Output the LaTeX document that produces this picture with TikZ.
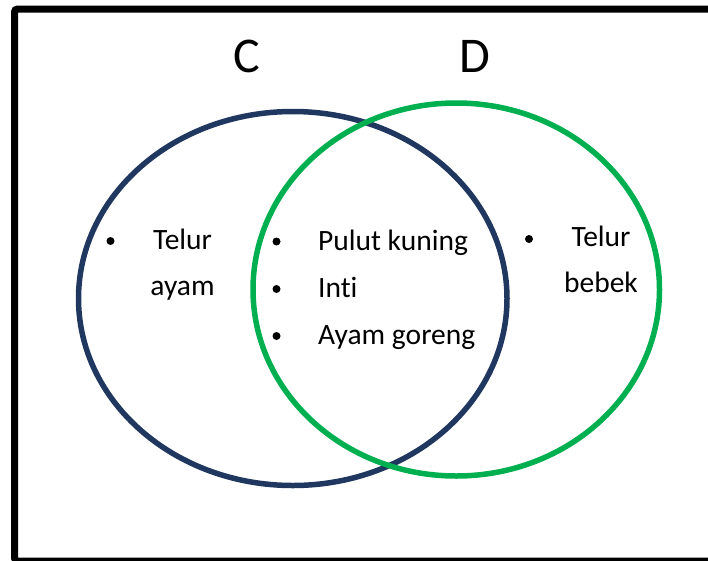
\documentclass[tikz,border=0pt]{standalone}
\usepackage{fontspec}
\setmainfont{Carlito}[Ligatures=NoCommon]
\definecolor{navyc}{RGB}{32,56,96}
\definecolor{greend}{RGB}{0,176,80}
\begin{document}
\begin{tikzpicture}[x=1pt,y=-1pt,
  setname/.style={font=\fontsize{50}{60}\selectfont, anchor=base},
  item/.style={font=\fontsize{29.5}{34}\selectfont, anchor=base west, inner sep=0pt},
  pair/.style={font=\fontsize{29.5}{46}\selectfont, align=center, anchor=north, inner sep=0pt},
  dot/.style={circle, fill=black, inner sep=0pt, minimum size=8pt}]
\useasboundingbox (0,0) rectangle (708,560);
\draw[line width=7pt, rounded corners=3pt] (14.5,9) rectangle (730,561);
% sets
\draw[navyc, line width=5.5pt] (292.75,298.5) ellipse [x radius=214.25, y radius=187];
\draw[greend, line width=5.5pt] (456.25,289.5) ellipse [x radius=203.25, y radius=186.5];
\node[setname] (C) at (246.5,72) {C};
\node[setname] (D) at (475,72) {D};
% only C
\node[dot] (b1) at (110.5,241) {};
\node[pair] (t1) at (182.5,229) {Telur\\ayam};
% both
\node[dot] (b2) at (276.5,241.5) {};
\node[dot] (b3) at (276.5,289) {};
\node[dot] (b4) at (276.5,336) {};
\node[item] (t2) at (318,250) {Pulut kuning};
\node[item] (t3) at (318,297) {Inti};
\node[item] (t4) at (318,344) {Ayam goreng};
% only D
\node[dot] (b5) at (529,239) {};
\node[pair] (t5) at (601,226) {Telur\\bebek};
\end{tikzpicture}
\end{document}
